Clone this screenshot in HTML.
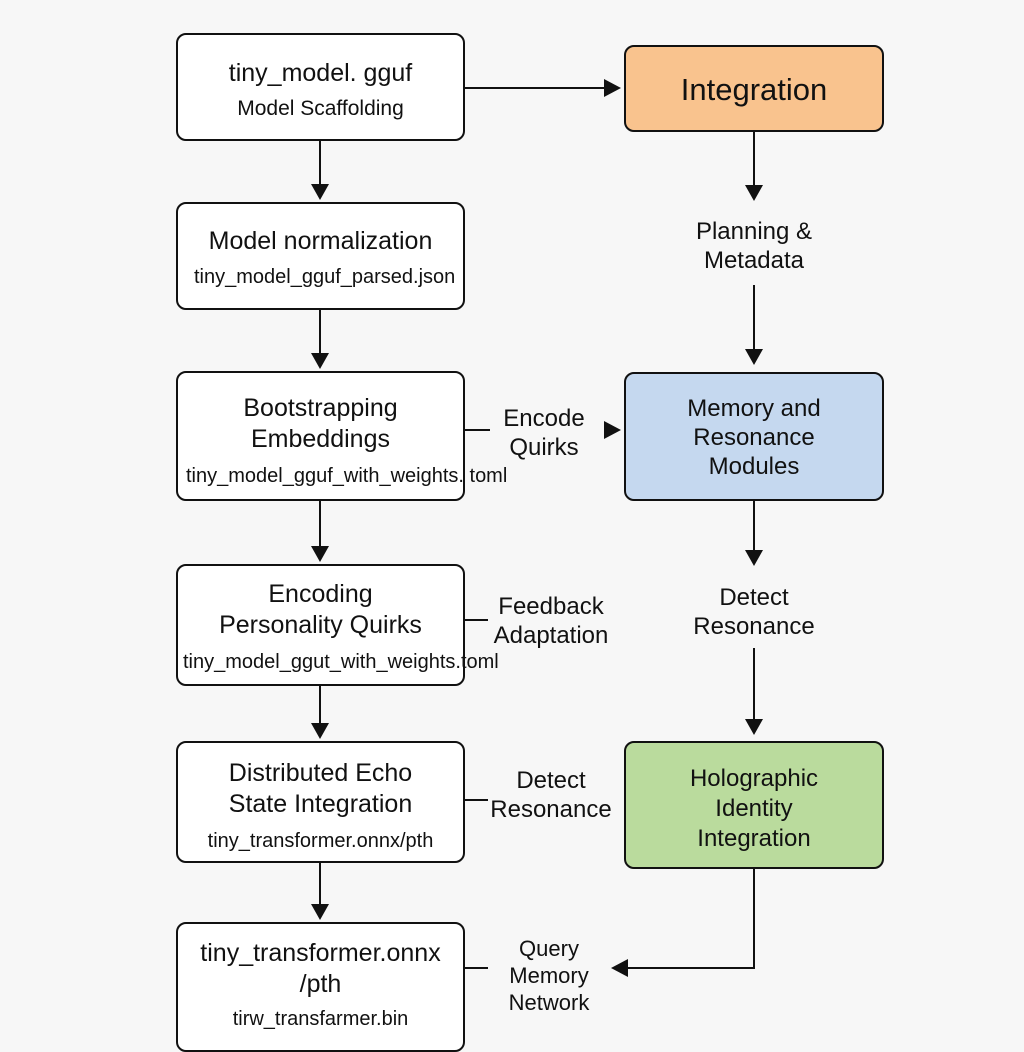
<!DOCTYPE html>
<html><head><style>
html,body{margin:0;padding:0;background:#f7f7f7;}
body{width:1024px;height:1024px;position:relative;overflow:hidden;font-family:"Liberation Sans",sans-serif;color:#111;}
.b{position:absolute;box-sizing:border-box;border:2px solid #111;border-radius:10px;background:#fff;text-align:center;}
.t{position:absolute;left:-20px;right:-20px;text-align:center;white-space:nowrap;}
.l{position:absolute;text-align:center;font-size:24px;line-height:29px;white-space:nowrap;}
</style></head><body>
<svg width="1024" height="1024" style="position:absolute;left:0;top:0">
<g stroke="#111" stroke-width="2" fill="none">
<line x1="320" y1="140" x2="320" y2="186"/>
<line x1="320" y1="309" x2="320" y2="355"/>
<line x1="320" y1="500" x2="320" y2="548"/>
<line x1="320" y1="685" x2="320" y2="725"/>
<line x1="320" y1="862" x2="320" y2="906"/>
<line x1="464" y1="88" x2="606" y2="88"/>
<line x1="754" y1="131" x2="754" y2="187"/>
<line x1="754" y1="285" x2="754" y2="351"/>
<line x1="754" y1="500" x2="754" y2="552"/>
<line x1="754" y1="648" x2="754" y2="721"/>
<polyline points="754,868 754,968 626,968"/>
<line x1="464" y1="430" x2="490" y2="430"/>
<line x1="464" y1="620" x2="488" y2="620"/>
<line x1="464" y1="800" x2="488" y2="800"/>
<line x1="464" y1="968" x2="488" y2="968"/>
</g>
<g fill="#111">
<polygon points="311,184 329,184 320,200"/>
<polygon points="311,353 329,353 320,369"/>
<polygon points="311,546 329,546 320,562"/>
<polygon points="311,723 329,723 320,739"/>
<polygon points="311,904 329,904 320,920"/>
<polygon points="604,79 604,97 621,88"/>
<polygon points="745,185 763,185 754,201"/>
<polygon points="745,349 763,349 754,365"/>
<polygon points="745,550 763,550 754,566"/>
<polygon points="745,719 763,719 754,735"/>
<polygon points="604,421 604,439 621,430"/>
<polygon points="628,959 628,977 611,968"/>
</g>
</svg>

<div class="b" style="left:176px;top:33px;width:289px;height:108px">
<div class="t" style="top:24px;font-size:25px">tiny_model. gguf</div>
<div class="t" style="top:62px;font-size:21px">Model Scaffolding</div></div>

<div class="b" style="left:176px;top:202px;width:289px;height:108px">
<div class="t" style="top:23px;font-size:25px">Model normalization</div>
<div class="t" style="top:62px;font-size:20px;left:16px;text-align:left">tiny_model_gguf_parsed.json</div></div>

<div class="b" style="left:176px;top:371px;width:289px;height:130px">
<div class="t" style="top:20px;font-size:25px;line-height:31px">Bootstrapping<br>Embeddings</div>
<div class="t" style="top:92px;font-size:20px;left:8px;text-align:left">tiny_model_gguf_with_weights. toml</div></div>

<div class="b" style="left:176px;top:564px;width:289px;height:122px">
<div class="t" style="top:13px;font-size:25px;line-height:31px">Encoding<br>Personality Quirks</div>
<div class="t" style="top:85px;font-size:20px;left:5px;text-align:left">tiny_model_ggut_with_weights.toml</div></div>

<div class="b" style="left:176px;top:741px;width:289px;height:122px">
<div class="t" style="top:15px;font-size:25px;line-height:31px">Distributed Echo<br>State Integration</div>
<div class="t" style="top:87px;font-size:20px">tiny_transformer.onnx/pth</div></div>

<div class="b" style="left:176px;top:922px;width:289px;height:130px">
<div class="t" style="top:14px;font-size:25px;line-height:31px">tiny_transformer.onnx<br>/pth</div>
<div class="t" style="top:84px;font-size:20px">tirw_transfarmer.bin</div></div>

<div class="b" style="left:624px;top:45px;width:260px;height:87px;background:#f9c38e">
<div class="t" style="top:25px;font-size:31px">Integration</div></div>

<div class="b" style="left:624px;top:372px;width:260px;height:129px;background:#c5d8ef">
<div class="t" style="top:20px;font-size:24px;line-height:29px">Memory and<br>Resonance<br>Modules</div></div>

<div class="b" style="left:624px;top:741px;width:260px;height:128px;background:#badb9d">
<div class="t" style="top:21px;font-size:24px;line-height:30px">Holographic<br>Identity<br>Integration</div></div>

<div class="l" style="left:674px;top:217px;width:160px">Planning &amp;<br>Metadata</div>
<div class="l" style="left:674px;top:583px;width:160px">Detect<br>Resonance</div>
<div class="l" style="left:484px;top:404px;width:120px">Encode<br>Quirks</div>
<div class="l" style="left:474px;top:592px;width:154px">Feedback<br>Adaptation</div>
<div class="l" style="left:474px;top:766px;width:154px">Detect<br>Resonance</div>
<div class="l" style="left:484px;top:935px;width:130px;font-size:22px;line-height:27px">Query<br>Memory<br>Network</div>
</body></html>
